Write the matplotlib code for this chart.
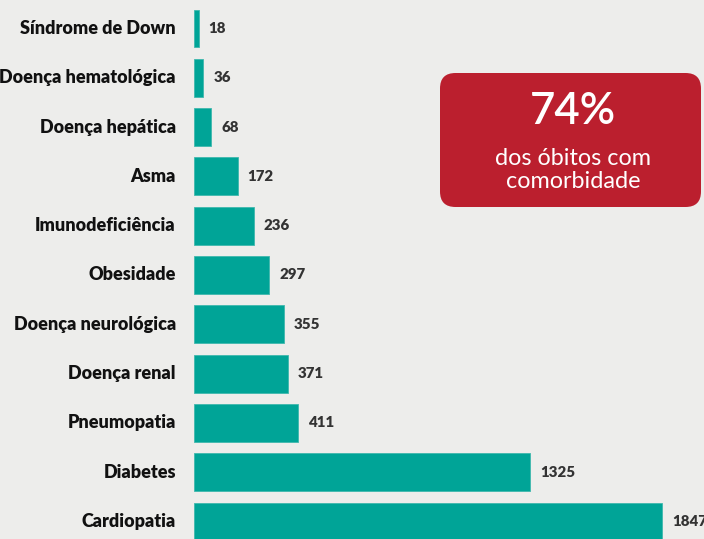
import matplotlib.pyplot as plt
from matplotlib.patches import FancyBboxPatch

# comorbidades nos óbitos
categorias = ["Síndrome de Down", "Doença hematológica", "Doença hepática", "Asma",
              "Imunodeficiência", "Obesidade", "Doença neurológica", "Doença renal",
              "Pneumopatia", "Diabetes", "Cardiopatia"]
obitos = [18, 36, 68, 172, 236, 297, 355, 371, 411, 1325, 1847]

destaque = "74%"
destaque_texto = "dos óbitos com\ncomorbidade"

fundo = "#ededeb"
verde = "#00a497"
vermelho = "#bb1f2e"

fig = plt.figure(figsize=(7.04, 5.39), dpi=100, facecolor=fundo)
ax = fig.add_axes([194 / 704, 0, 510 / 704, 1])
ax.set_facecolor(fundo)

pos = list(range(len(categorias)))
ax.barh(pos, obitos, height=0.77, color=verde, edgecolor="#3fb8ad", linewidth=0.6)

ax.set_ylim(10.355, -0.578)
ax.set_xlim(0, 1847 * 510 / 468)

for i, (c, v) in enumerate(zip(categorias, obitos)):
    ax.text(v + 40, i, str(v), va="center", ha="left", fontsize=10.8,
            fontweight="heavy", color="#333333", family="Lato")
    ax.text(-72, i, c, va="center", ha="right", fontsize=13,
            fontweight="heavy", color="#111111", family="Lato")

for s in ax.spines.values():
    s.set_visible(False)
ax.set_xticks([])
ax.set_yticks([])

# caixa vermelha
caixa = FancyBboxPatch((440 / 704, 1 - 207 / 539), 261 / 704, 134 / 539,
                       boxstyle="round,pad=0,rounding_size=0.022",
                       transform=fig.transFigure, facecolor=vermelho,
                       edgecolor="none", mutation_aspect=704 / 539)
fig.patches.append(caixa)
fig.text(573 / 704, 1 - 111 / 539, destaque, ha="center", va="center",
         fontsize=31.5, color="white", family="Lato", fontweight="semibold")
fig.text(573 / 704, 1 - 170 / 539, destaque_texto, ha="center", va="center",
         fontsize=16.8, color="white", family="Lato", fontweight="normal",
         linespacing=1.1)

fig.savefig("out.png", dpi=100, facecolor=fundo)
